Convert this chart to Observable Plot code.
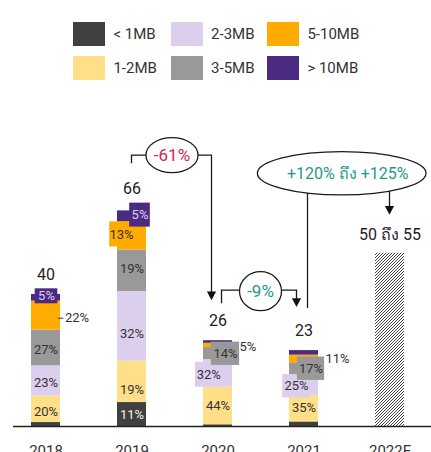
<!DOCTYPE html>
<html>
<head>
<meta charset="utf-8">
<script src="https://cdn.jsdelivr.net/npm/d3@7"></script>
<script src="https://cdn.jsdelivr.net/npm/@observablehq/plot@0.6"></script>
<style>
  body { margin: 0; background: #fff; font-family: Roboto, "Noto Sans", sans-serif; }
  #wrap { position: relative; width: 431px; height: 452px; overflow: hidden; }
  #legend { position: absolute; left: 73px; top: 21.5px; display: grid; grid-auto-flow: column;
            grid-template-rows: 34.3px 34.3px; grid-template-columns: 97.7px 96.3px 120px;
            font-size: 15px; color: #333; z-index: 2; }
  .item { display: flex; align-items: center; height: 24.5px; }
  .sw { width: 32.4px; height: 24.5px; margin-right: 8px; flex: none; }
  #chart { position: absolute; left: 0; top: 0; }
</style>
</head>
<body>
<div id="wrap">
  <div id="legend"></div>
  <div id="chart"></div>
</div>
<script>
// ---------------- data ----------------
const years = ["2018", "2019", "2020", "2021", "2022F"];
const totals = [40, 66, 26, 23];
const categories = ["< 1MB", "1-2MB", "2-3MB", "3-5MB", "5-10MB", "> 10MB"];
const colors = ["#404040", "#ffdf88", "#dccfee", "#999999", "#ffab00", "#4b2a82"];
const share2018 = [3, 20, 23, 27, 22, 5];
const share2019 = [11, 19, 32, 19, 13, 5];
const share2020 = [2, 44, 32, 14, 5, 3];
const share2021 = [6, 35, 25, 17, 11, 6];
const forecastRange = [50, 55];
const forecastLabel = "50 ถึง 55";
const changeLabels = ["-61%", "-9%", "+120% ถึง +125%"];

// ---------------- layout (styles / label placement) ----------------
// [year, category, mode, dx(px), dy(px), boxWidth, boxHeight]
const labelLayout = [
  ["2018", "1-2MB", "in", 0, 2],
  ["2018", "2-3MB", "in", 0, 1.5],
  ["2018", "3-5MB", "in", 0, 1.5],
  ["2018", "5-10MB", "out", 19, 2.6],
  ["2018", "> 10MB", "box", 0.5, -1.5, 23, 15],
  ["2019", "< 1MB", "in", 0, 0],
  ["2019", "1-2MB", "in", 0, 8],
  ["2019", "2-3MB", "in", 0, 8],
  ["2019", "3-5MB", "in", 0, -1.5],
  ["2019", "5-10MB", "box", -10.5, -1.5, 24, 25],
  ["2019", "> 10MB", "box", 8, -1.2, 21, 24],
  ["2020", "1-2MB", "in", 0, 0],
  ["2020", "2-3MB", "box", -9.2, 1.5, 27, 25],
  ["2020", "3-5MB", "box", 7.5, 0.2, 28.6, 23.3],
  ["2020", "5-10MB", "out", 21.5, 1],
  ["2021", "1-2MB", "in", 0, -1],
  ["2021", "2-3MB", "box", -7.5, 0.3, 28, 23.3],
  ["2021", "3-5MB", "box", 7, -1.2, 27.6, 23.3],
  ["2021", "5-10MB", "out", 21.5, -1]
];
const darkText = "#333333";
const lightText = {"< 1MB": "#f0f0f0", "> 10MB": "#dccfee"};

const W = 431, H = 480, baseY = 426, pxPerUnit = 3.3;
const yMax = baseY / pxPerUnit;
const xOpts = {range: [13, 431], paddingInner: 0.66, paddingOuter: 0.249, align: 0.395};
const xb = d3.scaleBand(years, xOpts.range).paddingInner(xOpts.paddingInner)
  .paddingOuter(xOpts.paddingOuter).align(xOpts.align);
const bw = xb.bandwidth();

// ---------------- legend ----------------
const legend = d3.select("#legend");
categories.forEach((c, i) => {
  const it = legend.append("div").attr("class", "item");
  it.append("div").attr("class", "sw").style("background", colors[i]);
  it.append("span").text(c);
});

// ---------------- stacked rows ----------------
const shares = [share2018, share2019, share2020, share2021];
const rows = [];
shares.forEach((arr, i) => {
  let acc = 0;
  arr.forEach((s, j) => {
    const v = s / 100 * totals[i];
    rows.push({year: years[i], cat: categories[j], share: s, y1: acc, y2: acc + v, mid: acc + v / 2});
    acc += v;
  });
});
const totalRows = totals.map((t, i) => ({year: years[i], total: t}));
const forecastRows = [{year: years[4], lo: forecastRange[0], hi: forecastRange[1], label: forecastLabel}];
const colorOf = c => colors[categories.indexOf(c)];

// label marks
const labelMarks = [];
labelLayout.forEach(([yr, cat, mode, dx, dy, w, h]) => {
  const r = rows.find(d => d.year === yr && d.cat === cat);
  const txtFill = mode === "out" ? darkText : (lightText[cat] || darkText);
  if (mode === "box") {
    const c = r.mid - dy / pxPerUnit;
    labelMarks.push(Plot.barY([r], {
      x: "year", y1: () => c - h / 2 / pxPerUnit, y2: () => c + h / 2 / pxPerUnit,
      fill: colorOf(cat), insetLeft: bw / 2 + dx - w / 2, insetRight: bw / 2 - dx - w / 2
    }));
  }
  if (mode === "out" && yr === "2018") {
    labelMarks.push(Plot.tickY([r], {
      x: "year", y: "mid", dy, stroke: "#333", strokeWidth: 1,
      insetLeft: bw / 2 + 12.5, insetRight: bw / 2 - 18
    }));
  }
  labelMarks.push(Plot.text([r], {
    x: "year", y: "mid", text: d => d.share + "%", dx: mode === "out" ? dx : dx, dy,
    textAnchor: mode === "out" ? "start" : "middle",
    fill: txtFill, fontSize: 13
  }));
});

const chart = Plot.plot({
  width: W, height: H,
  marginLeft: 13, marginRight: 0, marginTop: 0, marginBottom: H - baseY,
  style: {fontFamily: "Roboto, 'Noto Sans', sans-serif", fontSize: "15px", color: "#333", background: "transparent", overflow: "visible"},
  x: {type: "band", domain: years, ...xOpts, tickSize: 0, tickPadding: 19, label: null},
  y: {domain: [0, yMax], range: [baseY, 0], axis: null},
  color: {domain: categories, range: colors},
  marks: [
    Plot.barY(rows, {x: "year", y1: "y1", y2: "y2", fill: "cat"}),
    Plot.barY(forecastRows, {x: "year", y: d => (d.lo + d.hi) / 2, fill: "url(#hatch)"}),
    ...labelMarks,
    Plot.text(totalRows, {x: "year", y: "total", text: d => String(d.total), dy: -20, fontSize: 16, fill: "#222"}),
    Plot.text(forecastRows, {x: "year", y: d => (d.lo + d.hi) / 2, text: "label", dy: -18, fontSize: 16, fill: "#222"}),
    Plot.ruleY([0], {stroke: "#222", strokeWidth: 1.3})
  ]
});
document.getElementById("chart").appendChild(chart);

// ---------------- hatch pattern & annotations ----------------
const svg = d3.select(chart);
const defs = svg.insert("defs", ":first-child");
const pat = defs.append("pattern").attr("id", "hatch").attr("patternUnits", "userSpaceOnUse")
  .attr("width", 3).attr("height", 3);
pat.append("rect").attr("width", 3).attr("height", 3).attr("fill", "#fff");
pat.append("path").attr("d", "M-1,1L1,-1M0,3L3,0M2,4L4,2").attr("stroke", "#2a2a2a").attr("stroke-width", 0.9);

const sx = chart.scale("x"), sy = chart.scale("y");
const X = v => sx.apply(v) + sx.bandwidth / 2;
const Y = v => sy.apply(v);
const x19 = X("2019"), x20 = X("2020"), x21 = X("2021"), x22 = X("2022F");
const fMid = (forecastRange[0] + forecastRange[1]) / 2;

const ann = svg.append("g");
const lineG = ann.append("g").attr("fill", "none").attr("stroke", "#1a1a1a").attr("stroke-width", 1.3);
function head(x, tip) {
  ann.append("path").attr("d", `M${x - 4.6},${tip - 8.8}L${x + 4.6},${tip - 8.8}L${x},${tip}Z`).attr("fill", "#111");
}
function bubble(cx, cy, rx, ry, text, color, size, tdx) {
  ann.append("ellipse").attr("cx", cx).attr("cy", cy).attr("rx", rx).attr("ry", ry)
    .attr("fill", "#fff").attr("stroke", "#1a1a1a").attr("stroke-width", 1.3);
  ann.append("text").attr("x", cx + (tdx || 0)).attr("y", cy).attr("dy", "0.35em")
    .attr("text-anchor", "middle").attr("fill", color).attr("font-size", size).text(text);
}
// -61%
const l1 = Y(totals[1]) - 53, e1x = (x19 + x20) / 2 - 2.5, tip1 = Y(totals[2]) - 40;
lineG.append("path").attr("d", `M${x19},${l1 + 8}V${l1}H${e1x}M${e1x},${l1}H${x20 - 6}V${tip1 - 6}`);
head(x20 - 6, tip1);
bubble(e1x, l1, 26, 17.5, changeLabels[0], "#d6245c", 17);
// -9%
const l2 = Y(totals[2]) - 50, e2x = (x20 + x21) / 2, tip2 = Y(totals[3]) - 43;
lineG.append("path").attr("d", `M${x20 + 4},${l2 + 13}V${l2}H${e2x}M${e2x},${l2}H${x21 - 7}V${tip2 - 6}`);
head(x21 - 7, tip2);
bubble(e2x, l2 + 1, 21, 19.5, changeLabels[1], "#1f9a8a", 17);
// +120% ถึง +125%
const e3x = x21 + 38.2, e3y = Y(fMid) - 79.5, tip3 = Y(fMid) - 38;
lineG.append("path").attr("d", `M${x21 + 4},${e3y}V${Y(totals[3]) - 42}M${x22},${e3y}V${tip3 - 6}`);
head(x22, tip3);
bubble(e3x, e3y, 84.3, 21.7, changeLabels[2], "#1f9a8a", 16, 6);
</script>
</body>
</html>
